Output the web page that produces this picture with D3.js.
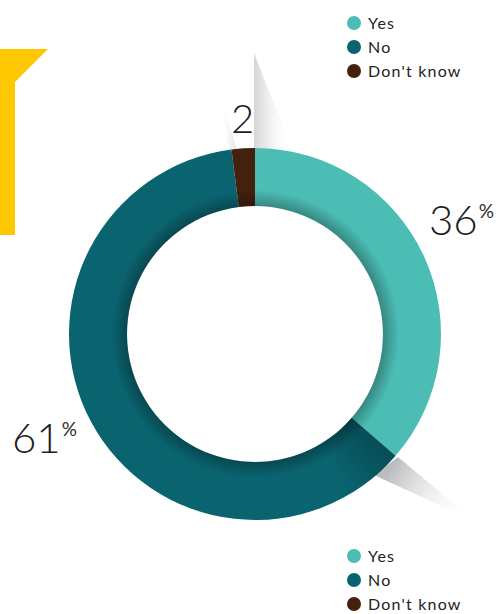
<!DOCTYPE html>
<html>
<head>
<meta charset="utf-8">
<script src="https://cdn.jsdelivr.net/npm/d3@7"></script>
<style>
  html, body { margin: 0; padding: 0; background: #fff; }
  svg { display: block; }
  .pct { font-family: "Lato", "Open Sans", sans-serif; font-weight: 300; fill: #1e1e1e; }
  .pct .sfx { font-weight: 400; fill: #2a2a2a; }
  .legend text { font-family: "Lato", "Open Sans", sans-serif; font-size: 16px; letter-spacing: 1.2px; fill: #222; }
</style>
</head>
<body>
<script>
// Survey answers
const categories = ["Yes", "No", "Don't know"];
const values = [36, 61, 2];
const colors = ["#4bbdb4", "#0a6470", "#44200e"];
const labels = ["36", "61", "2"];
const labelSuffix = ["%", "%", ""];

const W = 504, H = 614;
const cx = 255, cy = 334, rOuter = 186, rInner = 128;

const svg = d3.select("body").append("svg").attr("width", W).attr("height", H);
const defs = svg.append("defs");

// Yellow corner bracket
svg.append("path")
  .attr("d", "M0,49 L48,49 L15,82 L15,235 L0,235 Z")
  .attr("fill", "#fdc800");

// Soft grey fold shadows
const g1 = defs.append("linearGradient").attr("id", "foldTop").attr("x1", 0).attr("x2", 1).attr("y1", 0).attr("y2", 0);
g1.append("stop").attr("offset", 0).attr("stop-color", "#d4d4d6");
g1.append("stop").attr("offset", 1).attr("stop-color", "#ffffff").attr("stop-opacity", 0);
svg.append("path").attr("d", "M254,53 L254,149 L292,149 Z").attr("fill", "url(#foldTop)");

const g2 = defs.append("linearGradient").attr("id", "foldLeft").attr("x1", 0).attr("x2", 1).attr("y1", 0).attr("y2", 0);
g2.append("stop").attr("offset", 0).attr("stop-color", "#ffffff").attr("stop-opacity", 0);
g2.append("stop").attr("offset", 1).attr("stop-color", "#e2e2e4");
svg.append("path").attr("d", "M219,92 L229,150 L237,150 Z").attr("fill", "url(#foldLeft)");

const g3 = defs.append("linearGradient").attr("id", "foldBottom")
  .attr("gradientUnits", "userSpaceOnUse")
  .attr("x1", 392).attr("y1", 466).attr("x2", 472).attr("y2", 514);
g3.append("stop").attr("offset", 0).attr("stop-color", "#bcbcbf");
g3.append("stop").attr("offset", 1).attr("stop-color", "#ffffff").attr("stop-opacity", 0);
svg.append("path").attr("d", "M398,457 L476,522 L374,475 Z").attr("fill", "url(#foldBottom)");

// Donut
const pie = d3.pie().sort(null).value(d => d)(values);
const arc = d3.arc().innerRadius(rInner).outerRadius(rOuter);
const chart = svg.append("g").attr("transform", `translate(${cx},${cy})`);

chart.selectAll("path.slice").data(pie).join("path")
  .attr("class", "slice")
  .attr("d", arc)
  .attr("fill", (d, i) => colors[i]);

// Darkening on the "No" slice next to the fold with "Yes"
const noSlice = pie[1];
const steps = 24, span = 0.32;
for (let k = 0; k < steps; k++) {
  const a0 = noSlice.startAngle + span * k / steps;
  const a1 = noSlice.startAngle + span * (k + 1) / steps + 0.002;
  chart.append("path")
    .attr("d", d3.arc().innerRadius(rInner).outerRadius(rOuter).startAngle(a0).endAngle(a1)())
    .attr("fill", "#000")
    .attr("opacity", 0.2 * (1 - k / steps));
}

// Inner shadow around the hole
const rg = defs.append("radialGradient").attr("id", "innerShade")
  .attr("gradientUnits", "userSpaceOnUse").attr("cx", 0).attr("cy", 0).attr("r", rOuter);
rg.append("stop").attr("offset", rInner / rOuter).attr("stop-color", "#000").attr("stop-opacity", 0.28);
rg.append("stop").attr("offset", (rInner + 16) / rOuter).attr("stop-color", "#000").attr("stop-opacity", 0);
rg.append("stop").attr("offset", 1).attr("stop-color", "#000").attr("stop-opacity", 0);
chart.append("path")
  .attr("d", d3.arc().innerRadius(rInner).outerRadius(rOuter).startAngle(0).endAngle(2 * Math.PI)())
  .attr("fill", "url(#innerShade)");

// Value labels
const labelPos = [[429, 235, 42], [12, 453, 42], [231, 133, 40]];
labels.forEach((t, i) => {
  const [x, y, fs] = labelPos[i];
  const txt = svg.append("text").attr("class", "pct").attr("x", x).attr("y", y).attr("font-size", fs);
  txt.append("tspan").text(t);
  if (labelSuffix[i]) {
    txt.append("tspan").attr("class", "sfx").attr("font-size", 19).attr("dx", 1).attr("dy", -17).text(labelSuffix[i]);
  }
});

// Legends (top and bottom)
function legend(y0) {
  const g = svg.append("g").attr("class", "legend");
  const rows = g.selectAll("g").data(categories).join("g")
    .attr("transform", (d, i) => `translate(354,${y0 + i * 24})`);
  rows.append("circle").attr("r", 7).attr("fill", (d, i) => colors[i]);
  rows.append("text").attr("x", 14).attr("dy", "0.35em").text(d => d);
}
legend(23);
legend(556);
</script>
</body>
</html>
